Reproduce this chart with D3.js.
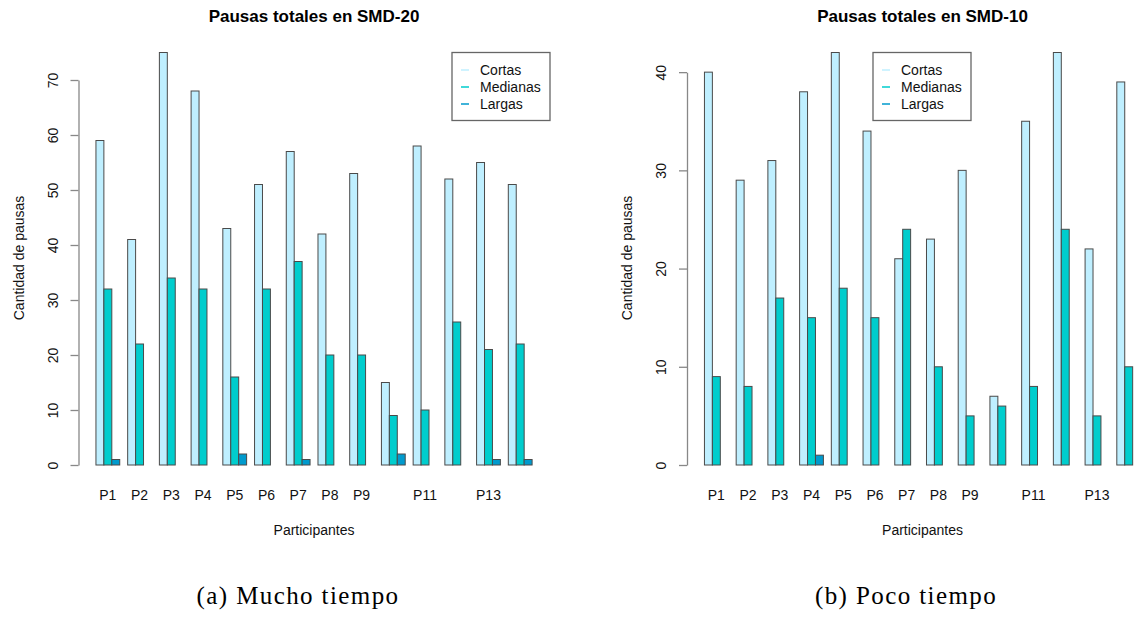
<!DOCTYPE html>
<html>
<head>
<meta charset="utf-8">
<script src="https://cdn.jsdelivr.net/npm/d3@7"></script>
<style>
  body { margin: 0; background: #fff; }
  svg { display: block; }
</style>
</head>
<body>
<svg id="fig" width="1137" height="617"></svg>
<script>
// participantes y series
const participants = ["P1", "P2", "P3", "P4", "P5", "P6", "P7", "P8", "P9", "P10", "P11", "P12", "P13", "P14"];
const hiddenLabels = ["P10", "P12", "P14"]; // R los omite por solaparse
const seriesNames = ["Cortas", "Medianas", "Largas"];
const seriesColors = ["#bfefff", "#00cdcd", "#009acd"];

// SMD-20 (mucho tiempo)
const cortas20 = [59, 41, 75, 68, 43, 51, 57, 42, 53, 15, 58, 52, 55, 51];
const medianas20 = [32, 22, 34, 32, 16, 32, 37, 20, 20, 9, 10, 26, 21, 22];
const largas20 = [1, 0, 0, 0, 2, 0, 1, 0, 0, 2, 0, 0, 1, 1];
const ticks20 = [0, 10, 20, 30, 40, 50, 60, 70];

// SMD-10 (poco tiempo)
const cortas10 = [40, 29, 31, 38, 42, 34, 21, 23, 30, 7, 35, 42, 22, 39];
const medianas10 = [9, 8, 17, 15, 18, 15, 24, 10, 5, 6, 8, 24, 5, 10];
const largas10 = [0, 0, 0, 1, 0, 0, 0, 0, 0, 0, 0, 0, 0, 0];
const ticks10 = [0, 10, 20, 30, 40];

const svg = d3.select("#fig");
const font = "'Liberation Sans', Arial, sans-serif";

function drawPanel(opt) {
    const unit = 7.93;          // ancho de una barra
    const y0 = 465, yTop = 52.5;
    const series = [opt.cortas, opt.medianas, opt.largas];
    const maxV = d3.max(series.flat());

    // eje x como en barplot(beside=TRUE): 3 barras + 1 de espacio por grupo
    const x = d3.scaleLinear()
        .domain([-1.2, 58.2])
        .range([opt.left, opt.left + 59.4 * unit]);
    const y = d3.scaleLinear()
        .domain([0, maxV])
        .range([y0, yTop]);

    const g = svg.append("g");

    // barras
    participants.forEach((p, i) => {
        series.forEach((vals, j) => {
            const start = 1 + 4 * i + j;
            g.append("rect")
                .attr("x", x(start))
                .attr("y", y(vals[i]))
                .attr("width", x(start + 1) - x(start))
                .attr("height", y(0) - y(vals[i]))
                .attr("fill", seriesColors[j])
                .attr("stroke", "#4a4a4a")
                .attr("stroke-width", 1);
        });
    });

    // eje y
    const lastTick = opt.ticks[opt.ticks.length - 1];
    const yAxisScale = y.copy().domain([0, lastTick]).range([y(0), y(lastTick)]);
    const ax = g.append("g")
        .attr("transform", `translate(${x(-1.2)},0)`)
        .call(d3.axisLeft(yAxisScale).tickValues(opt.ticks).tickSize(8).tickSizeOuter(0));
    ax.select(".domain").attr("stroke", "#888").attr("stroke-width", 1.3);
    ax.selectAll(".tick line").attr("stroke", "#888").attr("stroke-width", 1.3);
    ax.selectAll(".tick text")
        .attr("x", 0)
        .attr("y", -21)
        .attr("dy", 0)
        .attr("text-anchor", "middle")
        .attr("transform", "rotate(-90)")
        .attr("fill", "#111")
        .style("font", `14px ${font}`);

    // etiquetas x
    participants.forEach((p, i) => {
        if (hiddenLabels.includes(p)) return;
        g.append("text")
            .attr("x", x(1 + 4 * i + 1.5))
            .attr("y", 500)
            .attr("text-anchor", "middle")
            .style("font", `14px ${font}`)
            .attr("fill", "#111")
            .text(p);
    });

    const cx = x(28.5);
    g.append("text")
        .attr("x", cx)
        .attr("y", 535)
        .attr("text-anchor", "middle")
        .style("font", `14px ${font}`)
        .attr("fill", "#111")
        .text("Participantes");

    g.append("text")
        .attr("transform", `translate(${x(-1.2) - 55},258) rotate(-90)`)
        .attr("text-anchor", "middle")
        .style("font", `14px ${font}`)
        .attr("fill", "#111")
        .text("Cantidad de pausas");

    g.append("text")
        .attr("x", cx)
        .attr("y", 22)
        .attr("text-anchor", "middle")
        .style("font", `bold 17px ${font}`)
        .attr("fill", "#000")
        .text(opt.title);

    // leyenda
    const lg = g.append("g").attr("transform", `translate(${opt.legendX},52.5)`);
    lg.append("rect")
        .attr("width", 98).attr("height", 68)
        .attr("fill", "#fff")
        .attr("stroke", "#666").attr("stroke-width", 1.3);
    seriesNames.forEach((name, j) => {
        const ry = 17.5 + j * 17;
        lg.append("line")
            .attr("x1", 9).attr("x2", 17)
            .attr("y1", ry).attr("y2", ry)
            .attr("stroke", seriesColors[j]).attr("stroke-width", 1.5);
        lg.append("text")
            .attr("x", 28).attr("y", ry + 5)
            .style("font", `14px ${font}`)
            .attr("fill", "#111")
            .text(name);
    });

    svg.append("text")
        .attr("x", opt.captionX)
        .attr("y", 604)
        .attr("text-anchor", "middle")
        .style("font", "25px 'Liberation Serif', 'DejaVu Serif', serif")
        .style("letter-spacing", "1.4px")
        .attr("fill", "#000")
        .text(opt.caption);
}

drawPanel({
    left: 78.5, title: "Pausas totales en SMD-20",
    cortas: cortas20, medianas: medianas20, largas: largas20,
    ticks: ticks20, legendX: 452, captionX: 298, caption: "(a) Mucho tiempo"
});
drawPanel({
    left: 687, title: "Pausas totales en SMD-10",
    cortas: cortas10, medianas: medianas10, largas: largas10,
    ticks: ticks10, legendX: 873, captionX: 906, caption: "(b) Poco tiempo"
});
</script>
</body>
</html>
